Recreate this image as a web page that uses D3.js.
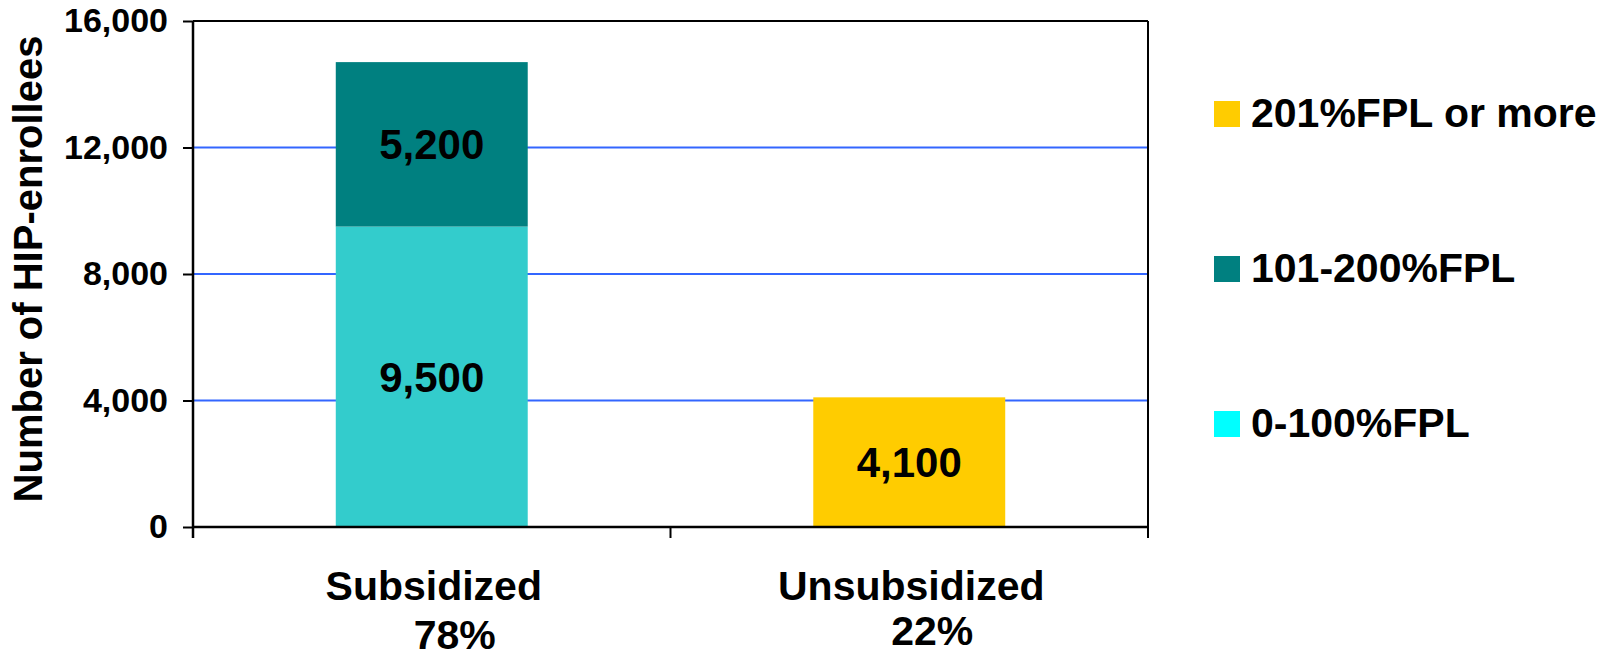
<!DOCTYPE html>
<html>
<head>
<meta charset="utf-8">
<script src="https://cdn.jsdelivr.net/npm/d3@7"></script>
<style>
  html, body { margin: 0; padding: 0; background: #fff; }
  svg { display: block; font-family: "Liberation Sans", Arial, sans-serif; font-weight: bold; }
</style>
</head>
<body>
<svg id="chart" width="1622" height="659"></svg>
<script>
// HIP enrollees by income band
const categories = ["Subsidized", "Unsubsidized"];
const categoryShares = ["78%", "22%"];
const seriesNames = ["0-100%FPL", "101-200%FPL", "201%FPL or more"];
const fpl0to100 = [9500, 0];
const fpl101to200 = [5200, 0];
const fpl201plus = [0, 4100];
const yTicks = [0, 4000, 8000, 12000, 16000];
const barColors = ["#33CCCC", "#008080", "#FFCC00"];
const legendColors = ["#00FFFF", "#008080", "#FFCC00"];

const svg = d3.select("#chart");
const plot = { left: 193, right: 1148, top: 21, bottom: 527 };

const rows = categories.map((c, i) => ({
  category: c,
  [seriesNames[0]]: fpl0to100[i],
  [seriesNames[1]]: fpl101to200[i],
  [seriesNames[2]]: fpl201plus[i]
}));
const stacked = d3.stack().keys(seriesNames)(rows);

const x = d3.scaleBand()
  .domain(categories)
  .range([plot.left, plot.right])
  .paddingInner(0.598)
  .paddingOuter(0.299);
const y = d3.scaleLinear()
  .domain([0, 16000])
  .range([plot.bottom, plot.top]);

// gridlines
svg.append("g")
  .selectAll("line")
  .data(yTicks.filter(t => t > 0 && t < 16000))
  .join("line")
  .attr("x1", plot.left).attr("x2", plot.right)
  .attr("y1", d => y(d)).attr("y2", d => y(d))
  .attr("stroke", "#3366FF").attr("stroke-width", 2);

// bars
const series = svg.append("g")
  .selectAll("g")
  .data(stacked)
  .join("g")
  .attr("fill", (d, i) => barColors[i]);
series.selectAll("rect")
  .data(d => d.map(v => ({ v, key: d.key })))
  .join("rect")
  .attr("x", d => x(d.v.data.category))
  .attr("width", x.bandwidth())
  .attr("y", d => y(d.v[1]))
  .attr("height", d => y(d.v[0]) - y(d.v[1]));

// frame: top and right edges
svg.append("line")
  .attr("x1", plot.left).attr("x2", plot.right)
  .attr("y1", y(16000)).attr("y2", y(16000))
  .attr("stroke", "#000").attr("stroke-width", 2);
svg.append("line")
  .attr("x1", plot.right).attr("x2", plot.right)
  .attr("y1", y(16000)).attr("y2", plot.bottom)
  .attr("stroke", "#000").attr("stroke-width", 2);

// value labels
const fmt = d3.format(",");
const labelSize = 42;
svg.append("g")
  .selectAll("text")
  .data(stacked.flatMap(s => s.filter(v => v[1] - v[0] > 0)))
  .join("text")
  .attr("x", d => x(d.data.category) + x.bandwidth() / 2)
  .attr("y", d => (y(d[0]) + y(d[1])) / 2 + labelSize * 0.716 / 2)
  .attr("text-anchor", "middle")
  .attr("font-size", labelSize)
  .attr("fill", "#000")
  .text(d => fmt(d[1] - d[0]));

// y axis
const yAxis = svg.append("g")
  .attr("transform", `translate(${plot.left},0)`)
  .call(d3.axisLeft(y).tickValues(yTicks).tickFormat(fmt).tickSize(10).tickPadding(15));
yAxis.select(".domain").remove();
yAxis.selectAll(".tick line").attr("stroke", "#000").attr("stroke-width", 2);
yAxis.selectAll(".tick text")
  .attr("font-size", 34).attr("font-family", "Liberation Sans, Arial, sans-serif")
  .attr("font-weight", "bold").attr("fill", "#000");
svg.append("line")
  .attr("x1", plot.left).attr("x2", plot.left)
  .attr("y1", plot.top).attr("y2", plot.bottom + 11)
  .attr("stroke", "#000").attr("stroke-width", 2.5);

// x axis baseline with category separator ticks
svg.append("line")
  .attr("x1", plot.left).attr("x2", plot.right)
  .attr("y1", plot.bottom).attr("y2", plot.bottom)
  .attr("stroke", "#000").attr("stroke-width", 2.5);
const separators = [plot.left, ...categories.map(c => x(c) + x.bandwidth() / 2 + x.step() / 2)];
svg.append("g")
  .selectAll("line")
  .data(separators)
  .join("line")
  .attr("x1", d => d).attr("x2", d => d)
  .attr("y1", plot.bottom).attr("y2", plot.bottom + 11)
  .attr("stroke", "#000").attr("stroke-width", 2);

// category labels
const shareLineDrop = [49, 45];
const catG = svg.append("g")
  .selectAll("text")
  .data(categories)
  .join("text")
  .attr("text-anchor", "middle")
  .attr("font-size", 41)
  .attr("fill", "#000");
catG.append("tspan")
  .attr("x", d => x(d) + x.bandwidth() / 2 + 2)
  .attr("y", 600)
  .text(d => d);
catG.append("tspan")
  .attr("x", d => x(d) + x.bandwidth() / 2 + 23)
  .attr("y", (d, i) => 600 + shareLineDrop[i])
  .text((d, i) => categoryShares[i]);

// y axis title
svg.append("text")
  .attr("transform", `translate(42,${(plot.top + plot.bottom) / 2 - 5}) rotate(-90)`)
  .attr("text-anchor", "middle")
  .attr("font-size", 40)
  .attr("fill", "#000")
  .text("Number of HIP-enrollees");

// legend (top entry is the top series)
const legendOrder = [2, 1, 0];
const legend = svg.append("g")
  .selectAll("g")
  .data(legendOrder)
  .join("g")
  .attr("transform", (d, i) => `translate(1214,${101 + i * 155})`);
legend.append("rect")
  .attr("width", 26).attr("height", 26)
  .attr("fill", d => legendColors[d]);
legend.append("text")
  .attr("x", 37).attr("y", 26)
  .attr("font-size", 41)
  .attr("fill", "#000")
  .text(d => seriesNames[d]);
</script>
</body>
</html>
